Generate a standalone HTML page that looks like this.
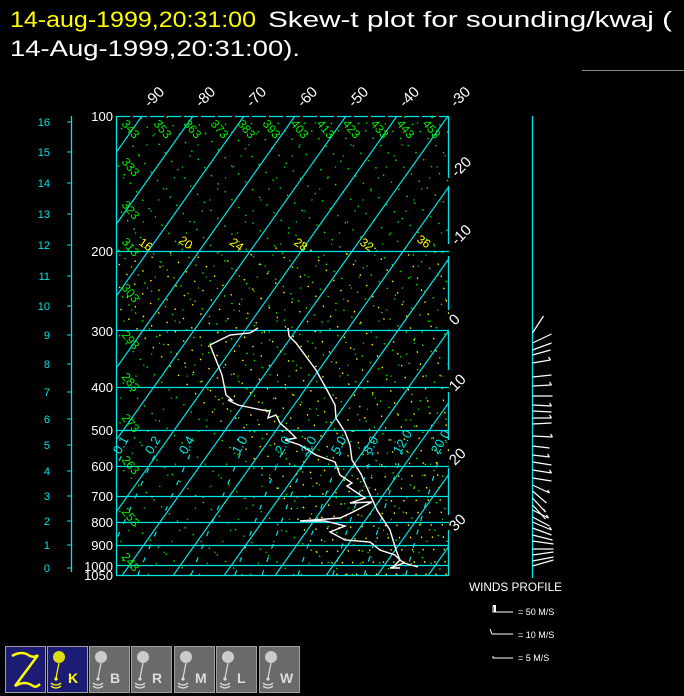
<!DOCTYPE html>
<html><head><meta charset="utf-8">
<style>
html,body{margin:0;padding:0;background:#000;width:684px;height:696px;overflow:hidden}
svg{display:block;font-family:"Liberation Sans",sans-serif}
</style></head>
<body>
<svg id="s" width="684" height="696" viewBox="0 0 684 696" xmlns="http://www.w3.org/2000/svg">
<defs><clipPath id="c"><rect x="116" y="116" width="333" height="459"/></clipPath></defs>
<text x="10" y="27" font-size="22" fill="#ffff00" textLength="246" lengthAdjust="spacingAndGlyphs">14-aug-1999,20:31:00</text>
<text x="268" y="27" font-size="22" fill="#fff" textLength="404" lengthAdjust="spacingAndGlyphs">Skew-t plot for sounding/kwaj (</text>
<text x="10" y="56" font-size="22" fill="#fff" textLength="290" lengthAdjust="spacingAndGlyphs">14-Aug-1999,20:31:00).</text>
<line x1="582" y1="70.5" x2="684" y2="70.5" stroke="#888" stroke-width="1"/>
<g id="plot" clip-path="url(#c)"></g>
<g id="over"></g>
<text x="469" y="591" font-size="12" fill="#fff" textLength="93" lengthAdjust="spacingAndGlyphs">WINDS PROFILE</text>
<g stroke="#fff" stroke-width="1" fill="none">
<path d="M493 606 V612 H513"/><path d="M493 606 h2 v6" stroke-width="2"/>
<path d="M490 629 L492 634 H513"/>
<path d="M493 656 V658 H513"/>
</g>
<g font-size="9" fill="#fff">
<text x="518" y="615">= 50 M/S</text>
<text x="518" y="638">= 10 M/S</text>
<text x="518" y="661">= 5 M/S</text>
</g>
<g id="btns"></g>
</svg>
<script>
var NS="http://www.w3.org/2000/svg";
function el(p,t,a,txt){var e=document.createElementNS(NS,t);for(var k in a)e.setAttribute(k,a[k]);if(txt!=null)e.textContent=txt;p.appendChild(e);return e;}
var P=document.getElementById('plot'),O=document.getElementById('over'),B=document.getElementById('btns');
function Y(p){return 116+195.2*Math.log(p/100);}
function X(T,p){var y=Y(p);return 448+5.1*(T+30)-(y-116)/1.41;}
function line(pts,a){var d='';pts.forEach(function(q,i){d+=(i?'L':'M')+q[0].toFixed(1)+' '+q[1].toFixed(1);});a.d=d;a.fill='none';return el(P,'path',a);}
for(var th=233;th<=473;th+=10){var pts=[];for(var p=1050;p>=95;p-=5){var T=th*Math.pow(p/1000,0.286)-273.15;pts.push([X(T,p),Y(p)]);}
line(pts,{stroke:'#00ee00','stroke-width':1.3,'stroke-dasharray':'1.5 9'});}
for(var T=-125;T<=45;T+=10){line([[X(T,1050),Y(1050)],[X(T,100),Y(100)]],{stroke:'#00cc00','stroke-width':1.2,'stroke-dasharray':'1.5 12'});}
function es(T){return 6.112*Math.exp(17.67*T/(T+243.5));}
for(var tw=8;tw<=38;tw+=2){var arr=[],T=tw+273.15;
 for(var p=1000;p<=1050;p+=2){arr.unshift([p,T]);var Tc=T-273.15,e=es(Tc),rs=0.622*e/(p-e);var dT=(287*T+2.5e6*rs)/(p*(1004+2.5e6*2.5e6*rs*0.622/(287*T*T)));T+=dT*2;}
 T=tw+273.15;for(var p=1000;p>=195;p-=2){arr.push([p,T]);var Tc=T-273.15,e=es(Tc),rs=0.622*e/(p-e);var dT=(287*T+2.5e6*rs)/(p*(1004+2.5e6*2.5e6*rs*0.622/(287*T*T)));T-=dT*2;}
 line(arr.map(function(q){return [X(q[1]-273.15,q[0]),Y(q[0])];}),{stroke:'#ffff00','stroke-width':1.3,'stroke-dasharray':'1.5 11'});}
[0.1,0.2,0.4,1,2,3,5,8,12,20].forEach(function(w){var pts=[];for(var p=1050;p>=560;p-=10){var e=w*p/(622+w),l=Math.log(e/6.112),T=243.5*l/(17.67-l);pts.push([X(T,p),Y(p)]);}
line(pts,{stroke:'#00e5e5','stroke-width':1.2,'stroke-dasharray':'5 9'});});
for(var T=-150;T<=50;T+=10){line([[X(T,1050),Y(1050)],[X(T,100),Y(100)]],{stroke:'#00e5e5','stroke-width':1.2});}
[200,300,400,500,600,700,800,900,1000].forEach(function(p){var y=Math.round(Y(p))+0.5;line([[116,y],[449,y]],{stroke:'#00e5e5','stroke-width':1.3});});
line([[288,328],[289,336],[296,343],[316,370],[327,390],[335,405],[336,418],[345,432],[350,445],[352,460],[361,474],[368,490],[377,510],[390,530],[396,550],[400,560],[404,563],[418,567]],{stroke:'#fff','stroke-width':1.4});
line([[404,563],[390,568],[400,568]],{stroke:'#fff','stroke-width':1.4});
line([[258,328],[250,333],[230,335],[210,345],[214,355],[222,375],[226,395],[232,400],[228,400],[238,405],[262,410],[270,411],[268,418],[276,415],[280,423],[290,432],[296,438],[285,440],[300,445],[316,455],[335,462],[340,475],[352,483],[347,486],[365,498],[350,503],[372,502],[353,512],[340,518],[300,521],[325,521],[345,526],[330,532],[345,540],[370,542],[380,550],[395,555],[400,560],[392,568]],{stroke:'#fff','stroke-width':1.4});
var fr={stroke:'#00e5e5','stroke-width':1.3,fill:'none'};
el(O,'line',Object.assign({x1:116.5,y1:116,x2:116.5,y2:575.5},fr));
el(O,'line',Object.assign({x1:116,y1:575.5,x2:449,y2:575.5},fr));
el(O,'line',Object.assign({x1:116,y1:116.5,x2:449,y2:116.5,'stroke-dasharray':'14 3'},fr));
[[116,178],[186,244],[256,310],[332,370],[392,440],[468,515],[530,575]].forEach(function(s){el(O,'line',Object.assign({x1:448.5,y1:s[0],x2:448.5,y2:s[1]},fr));});
el(O,'line',Object.assign({x1:71.5,y1:116,x2:71.5,y2:572},fr));
var hy=[568,545,521,496,471,445,419,392,364,335,306,276,245,214,183,152,122];
hy.forEach(function(y,i){el(O,'line',{x1:67,y1:y,x2:72,y2:y,stroke:'#00e5e5'});el(O,'text',{x:50,y:y+4,'font-size':11,fill:'#00e5e5','text-anchor':'end'},String(i));});
[[100,121],[200,256],[300,336],[400,392],[500,435],[600,471],[700,501],[800,527],[900,550],[1000,571],[1050,580]].forEach(function(q){el(O,'text',{x:113,y:q[1],'font-size':13,fill:'#fff','text-anchor':'end'},String(q[0]));});
[[-90,150,108],[-80,201,108],[-70,252,108],[-60,303,108],[-50,354,108],[-40,405,108],[-30,456,108],[-20,457,178],[-10,457,246],[0,455,326],[10,455,392],[20,455,466],[30,455,532]].forEach(function(q){el(O,'text',{x:q[1],y:q[2],'font-size':15,fill:'#fff',transform:'rotate(-45 '+q[1]+' '+q[2]+')'},String(q[0]));});
[[343,121,124],[353,153,124],[363,183,124],[373,210,124],[383,237,124],[393,262,124],[403,290,124],[413,316,124],[423,342,124],[433,370,124],[443,396,124],[453,422,124],[333,121,162],[323,121,205],[313,121,242],[303,121,288],[293,121,335],[283,121,377],[273,121,418],[263,121,460],[253,121,512],[243,121,557]].forEach(function(q){el(O,'text',{x:q[1],y:q[2],'font-size':12,fill:'#00ee00',transform:'rotate(50 '+q[1]+' '+q[2]+')'},String(q[0]));});
[[16,138,244],[20,178,242],[24,229,244],[28,293,244],[32,359,244],[36,416,241]].forEach(function(q){el(O,'text',{x:q[1],y:q[2],'font-size':12,fill:'#ffff00',transform:'rotate(35 '+q[1]+' '+q[2]+')'},String(q[0]));});
[['0.1',120,455],['0.2',152,455],['0.4',186,455],['1.0',239,455],['2.0',282,455],['3.0',308,455],['5.0',338,455],['8.0',370,455],['12.0',400,455],['20.0',438,455]].forEach(function(q){el(O,'text',{x:q[1],y:q[2],'font-size':13,fill:'#00e5e5',transform:'rotate(-60 '+q[1]+' '+q[2]+')'},q[0]);});
el(O,'line',{x1:532.5,y1:116,x2:532.5,y2:578,stroke:'#00e5e5','stroke-width':1.3});
var barbs=[[333,11,-17],[343,19,-9],[350,19,-7],[355,18,-5],[363,18,-3],[377,19,-2],[386,19,-1],[396,20,0],[405,19,1],[411,19,1],[418,19,0],[424,19,-1],[436,20,1],[446,17,2],[455,17,2],[462,19,3],[470,19,3],[478,19,3],[485,17,8],[491,14,12],[498,13,14],[505,13,14],[510,16,8],[517,17,9],[522,19,8],[528,19,7],[535,20,5],[541,21,3],[549,21,0],[555,21,-3],[561,21,-4],[566,21,-6]];
barbs.forEach(function(b,i){el(O,'line',{x1:532.5,y1:b[0],x2:532.5+b[1],y2:b[0]+b[2],stroke:'#fff','stroke-width':1.2});if(b[0]>355&&b[0]<525&&i%2==0)el(O,'line',{x1:532.5+b[1],y1:b[0]+b[2],x2:532.5+b[1]-2,y2:b[0]+b[2]-3,stroke:'#fff','stroke-width':1.2});});
var bx=[5,47,89,131,174,216,259],lab=['','K','B','R','M','L','W'];
bx.forEach(function(x,i){var navy=i<2;el(B,'rect',{x:x+0.5,y:646.5,width:40,height:46,fill:navy?'#1c1c74':'#6a6a6a',stroke:'#a0a0a0'});
 if(i==0){el(B,'path',{d:'M12 656 Q22 650 30 656 Q35 658 38 655 L15 686 Q25 680 33 686 Q36 688 40 684',stroke:'#ffff00','stroke-width':2.5,fill:'none'});return;}
 var c=navy?'#ffff00':'#dcdcdc';
 el(B,'circle',{cx:x+12,cy:657,r:6,fill:c,opacity:0.85});
 el(B,'path',{d:'M'+(x+12)+' 663 L'+(x+9)+' 678',stroke:c,'stroke-width':1.2,fill:'none'});
 el(B,'circle',{cx:x+9,cy:679,r:1.6,fill:c});
 el(B,'path',{d:'M'+(x+4)+' 683 q5 4 10 0 M'+(x+4)+' 686 q5 4 10 0',stroke:c,'stroke-width':1.2,fill:'none'});
 el(B,'text',{x:x+21,y:683,'font-size':14,'font-weight':'bold',fill:c},lab[i]);});
</script>
</body></html>
